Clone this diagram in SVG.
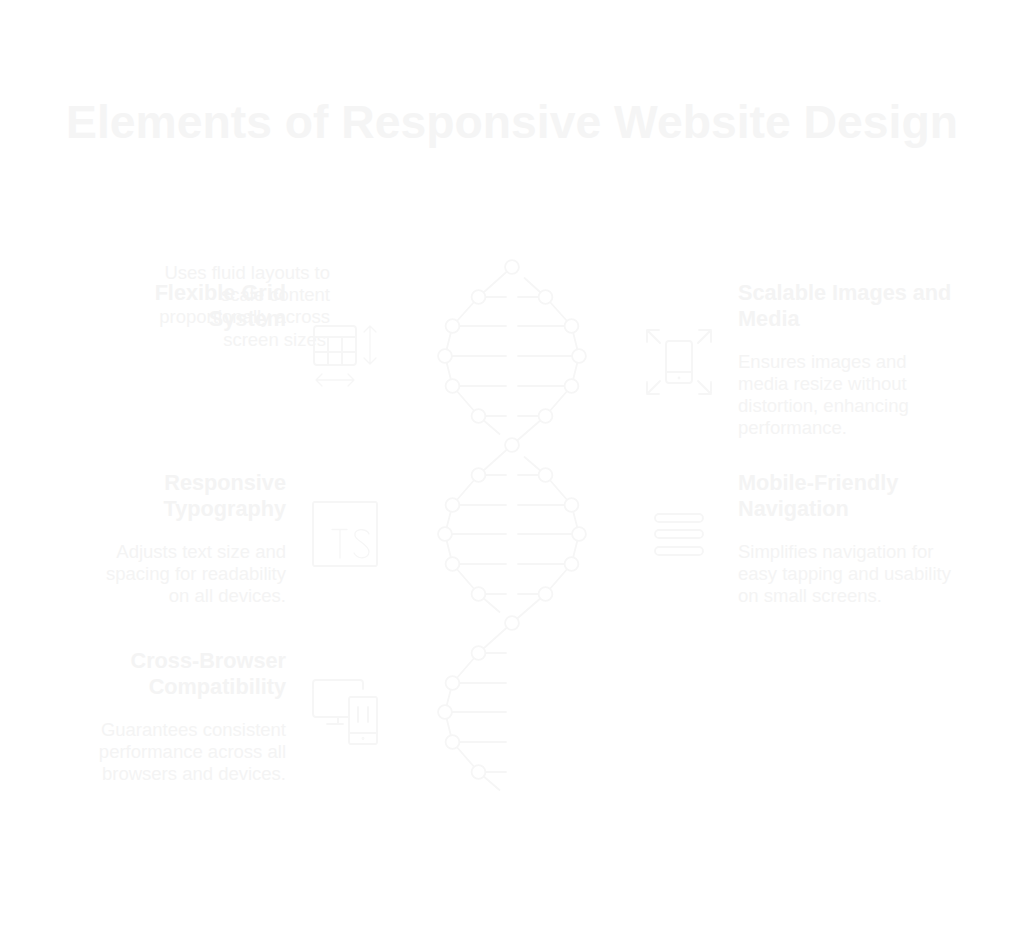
<svg xmlns="http://www.w3.org/2000/svg" width="1024" height="935" viewBox="0 0 1024 935">
<style>
text{font-family:"Liberation Sans",Arial,sans-serif}
.t{font-size:46.3px;font-weight:700;fill:#f5f5f5;text-anchor:middle}
.h{font-size:21.7px;font-weight:700;fill:#f4f4f4}
.d{font-size:18.5px;fill:#f4f4f4}
.e{text-anchor:end}
.s{fill:none;stroke:#f6f6f6;stroke-width:1.800;stroke-linecap:round;stroke-linejoin:round}
.n{fill:#fff;stroke:#f6f6f6;stroke-width:1.800}
.f{stroke-width:1.300}
</style>
<defs>
<g id="node"><circle r="6.900" class="n"/></g>
</defs>
<rect width="1024" height="935" fill="#fff"/>
<text id="title" class="t" x="512" y="138">Elements of Responsive Website Design</text>
<g id="connectors" class="s">
<path d="M512 267L478.500 297L452.500 326L445 356L452.500 386L478.500 416L499.500 434"/>
<path d="M524.500 278L545.500 297L571.500 326L579 356L571.500 386L545.500 416L512 445L478.500 475L452.500 505L445 534L452.500 564L478.500 594L499.500 612"/>
<path d="M524.500 457L545.500 475L571.500 505L579 534L571.500 564L545.500 594L512 623L478.500 653L452.500 683L445 712L452.500 742L478.500 772L499.500 790"/>
<path d="M478.500 297H506M518 297H545.500M452.500 326H506M518 326H571.500M445 356H506M518 356H579M452.500 386H506M518 386H571.500M478.500 416H506M518 416H545.500"/>
<path d="M478.500 475H506M518 475H545.500M452.500 505H506M518 505H571.500M445 534H506M518 534H579M452.500 564H506M518 564H571.500M478.500 594H506M518 594H545.500"/>
<path d="M478.500 653H506M452.500 683H506M445 712H506M452.500 742H506M478.500 772H506"/>
</g>
<g id="helix-nodes">
<use href="#node" x="512" y="267"/><use href="#node" x="478.500" y="297"/><use href="#node" x="545.500" y="297"/><use href="#node" x="452.500" y="326"/><use href="#node" x="571.500" y="326"/><use href="#node" x="445" y="356"/><use href="#node" x="579" y="356"/><use href="#node" x="452.500" y="386"/><use href="#node" x="571.500" y="386"/><use href="#node" x="478.500" y="416"/><use href="#node" x="545.500" y="416"/>
<use href="#node" x="512" y="445"/><use href="#node" x="478.500" y="475"/><use href="#node" x="545.500" y="475"/><use href="#node" x="452.500" y="505"/><use href="#node" x="571.500" y="505"/><use href="#node" x="445" y="534"/><use href="#node" x="579" y="534"/><use href="#node" x="452.500" y="564"/><use href="#node" x="571.500" y="564"/><use href="#node" x="478.500" y="594"/><use href="#node" x="545.500" y="594"/>
<use href="#node" x="512" y="623"/><use href="#node" x="478.500" y="653"/><use href="#node" x="452.500" y="683"/><use href="#node" x="445" y="712"/><use href="#node" x="452.500" y="742"/><use href="#node" x="478.500" y="772"/>
</g>
<g id="flexible-grid">
<text class="d e" x="330" y="279">Uses fluid layouts to</text>
<text class="d e" x="330" y="301">scale content</text>
<text class="d e" x="330" y="323">proportionally across</text>
<text class="d e" x="326" y="346">screen sizes</text>
<text class="h e" x="286" y="300">Flexible Grid</text>
<text class="h e" x="286" y="326">System</text>
<g class="s"><rect x="314" y="326" width="42" height="39" rx="3"/><path d="M314 337H356M314 352H356M328 337V365M342 337V365"/><path class="f" d="M370 326V364M364 332L370 326L376 332M364 358L370 364L376 358M316 380H354M322 374L316 380L322 386M348 374L354 380L348 386"/></g>
</g>
<g id="scalable-images">
<text class="h" x="738" y="300">Scalable Images and</text>
<text class="h" x="738" y="326">Media</text>
<text class="d" x="738" y="367.500">Ensures images and</text>
<text class="d" x="738" y="389.500">media resize without</text>
<text class="d" x="738" y="411.500">distortion, enhancing</text>
<text class="d" x="738" y="433.500">performance.</text>
<g class="s"><rect x="666" y="341" width="26" height="42" rx="3"/><path d="M666 372H692M647 330L660 343M647 330V342M647 330H659M711 330L698 343M711 330V342M711 330H699M647 394L660 381M647 394V382M647 394H659M711 394L698 381M711 394V382M711 394H699"/><circle cx="679" cy="378" r=".5"/></g>
</g>
<g id="responsive-typography">
<text class="h e" x="286" y="490">Responsive</text>
<text class="h e" x="286" y="516">Typography</text>
<text class="d e" x="286" y="557.500">Adjusts text size and</text>
<text class="d e" x="286" y="579.500">spacing for readability</text>
<text class="d e" x="286" y="601.500">on all devices.</text>
<g class="s"><rect x="313" y="502" width="64" height="64" rx="2"/><path class="f" d="M332 529.500H347M340 529.500V558"/><path class="f" d="M369 534C367 529 358 528 355 533C353 541 369 543 369 552C368 559 358 560 354 553"/></g>
</g>
<g id="mobile-friendly">
<text class="h" x="738" y="490">Mobile-Friendly</text>
<text class="h" x="738" y="516">Navigation</text>
<text class="d" x="738" y="557.500">Simplifies navigation for</text>
<text class="d" x="738" y="579.500">easy tapping and usability</text>
<text class="d" x="738" y="601.500">on small screens.</text>
<g class="s"><rect x="655" y="514" width="48" height="8" rx="4"/><rect x="655" y="530" width="48" height="8" rx="4"/><rect x="655" y="547" width="48" height="8" rx="4"/></g>
</g>
<g id="cross-browser">
<text class="h e" x="286" y="668">Cross-Browser</text>
<text class="h e" x="286" y="694">Compatibility</text>
<text class="d e" x="286" y="735.500">Guarantees consistent</text>
<text class="d e" x="286" y="757.500">performance across all</text>
<text class="d e" x="286" y="779.500">browsers and devices.</text>
<g class="s"><path d="M348 717H316Q313 717 313 714V683Q313 680 316 680H360Q363 680 363 683V689M338 717V724M327 724H343"/><rect x="349" y="697" width="28" height="47" rx="2"/><path d="M349 733H377M358 707V722M368 707V722"/><circle cx="363" cy="738.500" r=".5"/></g>
</g>
</svg>
